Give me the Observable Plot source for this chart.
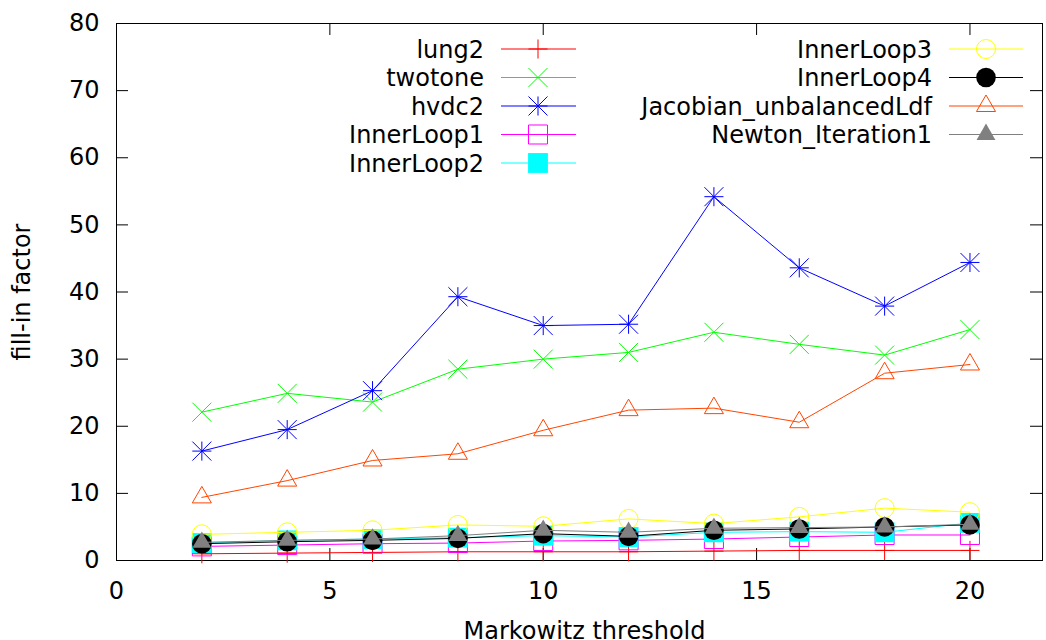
<!DOCTYPE html>
<html><head><meta charset="utf-8">
<script src="https://cdn.jsdelivr.net/npm/d3@7"></script>
<script src="https://cdn.jsdelivr.net/npm/@observablehq/plot@0.6"></script>
<style>
body{margin:0;background:#fff;}
#wrap{position:relative;width:1046px;height:640px;overflow:hidden;font-family:"DejaVu Sans";}
#legend{position:absolute;left:0;top:0;pointer-events:none;}
</style></head><body><div id="wrap"></div>
<script>
// ---- data ----
const thresholds = [2, 4, 6, 8, 10, 12, 14, 16, 18, 20];
const seriesNames = ["lung2", "twotone", "hvdc2", "InnerLoop1", "InnerLoop2", "InnerLoop3", "InnerLoop4", "Jacobian_unbalancedLdf", "Newton_Iteration1"];
const lung2      = [1.0, 1.1, 1.2, 1.3, 1.3, 1.3, 1.4, 1.5, 1.5, 1.5];
const twotone    = [22.1, 24.9, 23.6, 28.5, 30.0, 31.0, 34.0, 32.2, 30.6, 34.4];
const hvdc2      = [16.3, 19.5, 25.3, 39.3, 35.0, 35.2, 54.2, 43.6, 37.9, 44.4];
const innerLoop1 = [2.1, 2.3, 2.5, 2.6, 2.9, 3.0, 3.2, 3.5, 3.8, 3.8];
const innerLoop2 = [2.6, 3.0, 3.2, 3.4, 3.7, 3.5, 4.2, 4.3, 4.2, 5.6];
const innerLoop3 = [3.9, 4.2, 4.5, 5.3, 5.1, 6.2, 5.5, 6.5, 7.8, 7.2];
const innerLoop4 = [2.5, 2.8, 3.0, 3.3, 4.0, 3.6, 4.5, 4.7, 5.0, 5.3];
const jacobian   = [9.4, 11.9, 14.9, 15.9, 19.4, 22.4, 22.7, 20.6, 27.9, 29.2];
const newton     = [2.7, 3.0, 3.2, 3.7, 4.5, 4.2, 4.8, 4.9, 5.0, 5.4];
const seriesValues = [lung2, twotone, hvdc2, innerLoop1, innerLoop2, innerLoop3, innerLoop4, jacobian, newton];
const xTicks = [0, 5, 10, 15, 20];
const yTicks = [0, 10, 20, 30, 40, 50, 60, 70, 80];
const xLabel = "Markowitz threshold";
const yLabel = "fill-in factor";

// ---- styles ----
const seriesStyle = {
  "lung2": {color: "#ff0000", symbols: [{symbol: "plus", r: 6.2, filled: false}]},
  "twotone": {color: "#00ff00", symbols: [{symbol: "times", r: 8.7, filled: false}]},
  "hvdc2": {color: "#0000ff", symbols: [{symbol: "plus", r: 6.2, filled: false}, {symbol: "times", r: 8.7, filled: false}]},
  "InnerLoop1": {color: "#ff00ff", symbols: [{symbol: "square2", r: 12.1, filled: false}]},
  "InnerLoop2": {color: "#00ffff", symbols: [{symbol: "square", r: 11.2, filled: true}]},
  "InnerLoop3": {color: "#ffff00", symbols: [{symbol: "circle", r: 9.5, filled: false}]},
  "InnerLoop4": {color: "#000000", symbols: [{symbol: "circle", r: 9.8, filled: true}]},
  "Jacobian_unbalancedLdf": {color: "#ff4500", symbols: [{symbol: "triangle2", r: 9.1, filled: false}]},
  "Newton_Iteration1": {color: "#808080", symbols: [{symbol: "triangle", r: 7.0, filled: true}]}
};

const FS = 24;
const W = 1046, H = 640, mL = 116, mR = 4, mT = 23, mB = 80, tick = 12;
const innerW = W - mL - mR, innerH = H - mT - mB;

const rows = seriesNames.flatMap((name, i) => thresholds.map((t, j) => ({series: name, x: t, y: seriesValues[i][j]})));

const marks = [];
marks.push(Plot.frame({stroke: "black", strokeWidth: 1}));
marks.push(Plot.ruleY(yTicks.slice(1, -1), {y: d => d, stroke: "black", insetRight: innerW - tick}));
marks.push(Plot.ruleY(yTicks.slice(1, -1), {y: d => d, stroke: "black", insetLeft: innerW - tick}));
marks.push(Plot.ruleX(xTicks.slice(1), {x: d => d, stroke: "black", insetTop: innerH - tick}));
marks.push(Plot.ruleX(xTicks.slice(1), {x: d => d, stroke: "black", insetBottom: innerH - tick}));
marks.push(Plot.axisX({ticks: xTicks, tickSize: 0, tickPadding: 21, fontSize: FS, label: null, tickFormat: d => String(d)}));
marks.push(Plot.axisY({ticks: yTicks, tickSize: 0, tickPadding: 17, fontSize: FS, label: null, tickFormat: d => String(d)}));
marks.push(Plot.text([xLabel], {text: d => d, frameAnchor: "bottom", dx: 5, dy: 61, lineAnchor: "top", fontSize: FS, fill: "black"}));
marks.push(Plot.text([yLabel], {text: d => d, frameAnchor: "left", textAnchor: "middle", dx: -94, rotate: -90, fontSize: FS, fill: "black"}));

seriesNames.forEach(name => {
  const data = rows.filter(r => r.series === name);
  const st = seriesStyle[name];
  marks.push(Plot.line(data, {x: "x", y: "y", stroke: st.color, strokeWidth: 1}));
  st.symbols.forEach(s => marks.push(Plot.dot(data, {
    x: "x", y: "y", symbol: s.symbol, r: s.r,
    fill: s.filled ? st.color : "none",
    stroke: s.filled ? "none" : st.color, strokeWidth: 1
  })));
});

const chart = Plot.plot({
  width: W, height: H,
  marginLeft: mL, marginRight: mR, marginTop: mT, marginBottom: mB,
  style: {fontFamily: "DejaVu Sans", fontSize: FS + "px", background: "white", color: "black", overflow: "visible"},
  x: {domain: [0, 21.7]},
  y: {domain: [0, 80]},
  marks
});
const wrap = document.getElementById("wrap");
wrap.appendChild(chart);

// ---- legend overlay ----
const symbolMap = {plus: d3.symbolPlus, times: d3.symbolTimes, square2: d3.symbolSquare2, square: d3.symbolSquare,
  circle: d3.symbolCircle, triangle2: d3.symbolTriangle2, triangle: d3.symbolTriangle};
const cols = [
  {textRight: 484, x1: 501, x2: 576, mx: 538, items: seriesNames.slice(0, 5)},
  {textRight: 932, x1: 949, x2: 1023, mx: 986, items: seriesNames.slice(5)}
];
const leg = d3.select(wrap).append("svg").attr("id", "legend").attr("width", W).attr("height", H)
  .style("font-family", "DejaVu Sans").style("font-size", FS + "px");
cols.forEach(c => {
  c.items.forEach((name, k) => {
    const y = 49 + k * 28.5;
    const st = seriesStyle[name];
    leg.append("text").attr("x", c.textRight).attr("y", y).attr("dy", "0.36em")
      .attr("text-anchor", "end").attr("fill", "black").text(name);
    leg.append("line").attr("x1", c.x1).attr("x2", c.x2).attr("y1", y).attr("y2", y)
      .attr("stroke", st.color).attr("stroke-width", 1);
    st.symbols.forEach(s => {
      leg.append("path").attr("transform", `translate(${c.mx},${y})`)
        .attr("d", d3.symbol().type(symbolMap[s.symbol]).size(Math.PI * s.r * s.r)())
        .attr("fill", s.filled ? st.color : "none")
        .attr("stroke", s.filled ? "none" : st.color).attr("stroke-width", 1);
    });
  });
});
</script></body></html>
